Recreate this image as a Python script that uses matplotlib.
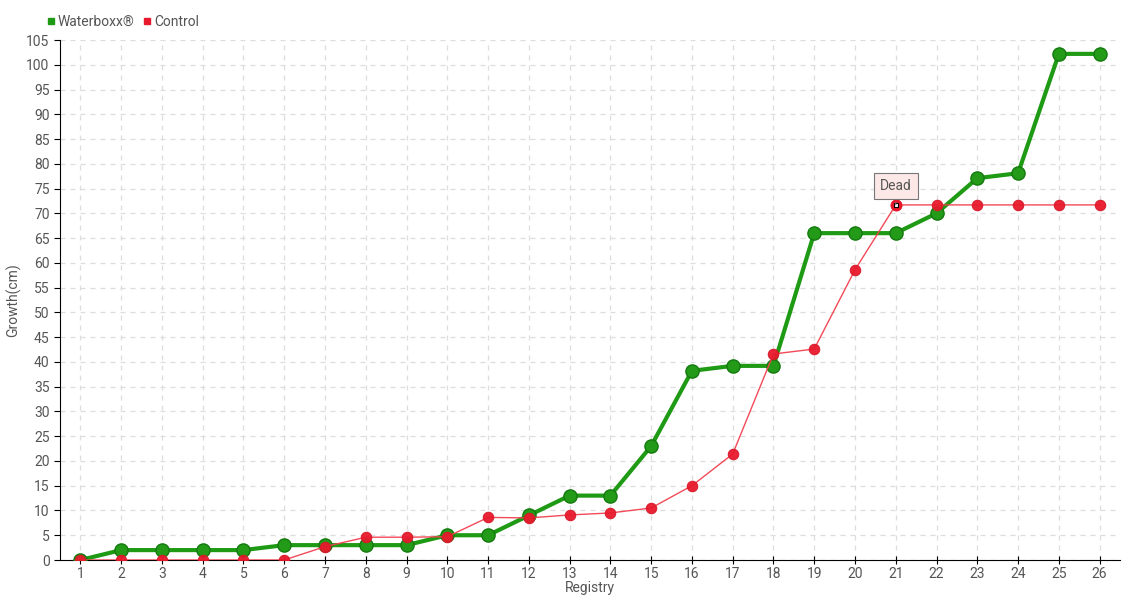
import matplotlib
matplotlib.use("Agg")
import matplotlib.pyplot as plt
from matplotlib.lines import Line2D

registry = list(range(1, 27))
waterboxx = [0, 2, 2, 2, 2, 3, 3, 3, 3, 5, 5, 9, 13, 13, 23, 38.2, 39.2, 39.2,
             66, 66, 66, 70, 77.1, 78.1, 102.2, 102.2]
control = [0, 0, 0, 0, 0, 0, 2.7, 4.6, 4.6, 4.7, 8.6, 8.5, 9.1, 9.5, 10.5, 15,
           21.4, 41.6, 42.6, 58.6, 71.7, 71.7, 71.7, 71.7, 71.7, 71.7]
yticks = list(range(0, 106, 5))
series_names = ["Waterboxx®", "Control"]

plt.rcParams['font.family'] = ['Roboto', 'DejaVu Sans']
txt = '#555555'

fig = plt.figure(figsize=(11.4, 6), dpi=100)
ax = fig.add_axes([60/1140, 40/600, 1060/1140, 520/600])

ax.plot(registry, waterboxx, color='#1f9a14', lw=3, marker='o', ms=9.5,
        mfc='#239a18', mec='#157a10', mew=1, zorder=3)
ax.plot(registry, control, color='#f2404f', lw=1, marker='o', ms=7.5,
        mfc='#e8192c', mec='#d81a2a', mew=0.8, zorder=4, alpha=0.95)

# highlighted point
ax.plot([21], [control[20]], marker='o', ms=7.5, mfc='#e8192c', mec='#e8192c', zorder=5)
ax.plot([21], [control[20]], marker='s', ms=3.5, mfc='white', mec='black', mew=0.8, zorder=6)

ax.annotate('Dead', xy=(21, control[20]), xytext=(21, 75.5), ha='center', va='center',
            fontsize=10, color=txt,
            bbox=dict(boxstyle='square,pad=0.45', fc='#fde8e8', ec='#777777', lw=0.8),
            arrowprops=dict(arrowstyle='-', color='#777777', lw=0.8), zorder=7)

ax.set_xlim(0.5, 26.5)
ax.set_ylim(0, 105)
ax.set_xticks(registry)
ax.set_yticks(yticks)
ax.tick_params(axis='both', labelsize=10, labelcolor=txt, color='black', length=4)
ax.tick_params(axis='x', direction='inout', length=6, pad=2)
ax.grid(True, linestyle=(0, (4, 4)), color='#dddddd', lw=0.9)
ax.set_axisbelow(True)
for s in ['top', 'right']:
    ax.spines[s].set_visible(False)
ax.spines['left'].set_color('black')
ax.spines['bottom'].set_color('black')
ax.set_xlabel('Registry', fontsize=10, color=txt, labelpad=0)
ax.set_ylabel('Growth(cm)', fontsize=10, color=txt, labelpad=4)

handles = [Line2D([], [], ls='none', marker='s', ms=5, mfc='#1f9a14', mec='#1f9a14'),
           Line2D([], [], ls='none', marker='s', ms=5, mfc='#e8192c', mec='#e8192c')]
fig.legend(handles, series_names, loc='upper left', bbox_to_anchor=(40/1140, 1 - 8/600),
           ncol=2, frameon=False, fontsize=10, labelcolor=txt, handlelength=0.6,
           handletextpad=0.2, columnspacing=0.6, borderpad=0)

fig.savefig('out.png', dpi=100)
